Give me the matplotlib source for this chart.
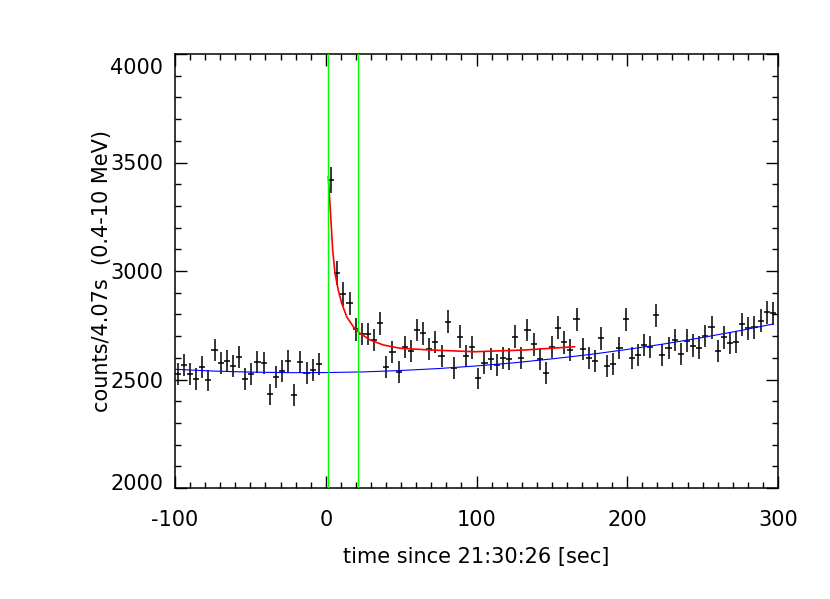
import numpy as np
import matplotlib
matplotlib.use("Agg")
import matplotlib.pyplot as plt
import matplotlib.transforms as mtransforms
from matplotlib.ticker import MultipleLocator

plt.rcParams["font.family"] = ["DejaVu Sans"]
plt.rcParams["axes.unicode_minus"] = False

# light curve, 4.07 s bins (one bin missing just before trigger)
bin_width = 4.07
t_first = -98.2
counts = [
    2525, 2568, 2527, 2501, 2559, 2496, 2636, 2574, 2585, 2564,
    2605, 2503, 2525, 2582, 2574, 2431, 2510, 2541, 2587, 2428,
    2582, 2531, 2544, 2572, np.nan, 3419, 2992, 2894, 2851, 2731,
    2710, 2710, 2682, 2759, 2559, 2628, 2536, 2651, 2633, 2728,
    2713, 2639, 2674, 2608, 2766, 2551, 2697, 2608, 2648, 2505,
    2578, 2594, 2567, 2598, 2593, 2697, 2601, 2728, 2662, 2593,
    2531, 2651, 2739, 2671, 2636, 2777, 2639, 2598, 2587, 2690,
    2562, 2571, 2644, 2777, 2598, 2613, 2659, 2651, 2797, 2613,
    2644, 2682, 2618, 2679, 2656, 2647, 2700, 2740, 2633, 2694,
    2667, 2674, 2754, 2736, 2740, 2771, 2810, 2805,
]

# background fit (blue)
bg_t = [-100, -75, -50, -25, 0, 25, 50, 75, 100, 125, 150, 175, 200, 225, 250, 275, 297]
bg_y = [2547, 2539, 2534, 2531.5, 2532, 2535, 2541.5, 2550.5, 2562.5, 2577, 2595, 2615,
        2638.5, 2664.5, 2693.5, 2725.5, 2756]

# burst fit (red)
fit_t = [1.7, 3.3, 4.6, 6.1, 8.3, 10.6, 13.9, 18.3, 22.7, 29.4, 38.2, 49.3, 69.2,
         99, 132, 165]
fit_y = [3434, 3250, 3097, 2991, 2912, 2851, 2789, 2743, 2713, 2682, 2659, 2644, 2636,
         2628, 2636, 2651]

# interval markers
t_marks = [1.3, 21.6]

counts = np.array(counts, dtype=float)
t = t_first + bin_width * np.arange(len(counts))

fig = plt.figure(figsize=(8.3, 5.99), dpi=100)
ax = fig.add_axes([175 / 830, 1 - 488 / 599, 603 / 830, 434 / 599])

ax.errorbar(t, counts, yerr=np.sqrt(counts), xerr=bin_width / 2,
            fmt="none", ecolor="black", elinewidth=1.1, capsize=0, zorder=2)
ax.plot(bg_t, bg_y, color="#0000ff", lw=0.8, zorder=3)
ax.plot(fit_t, fit_y, color="#ff0000", lw=1.2, zorder=3)
for tm in t_marks:
    ax.axvline(tm, color="#00ff00", lw=1.0, zorder=4)

ax.set_xlim(-100, 300)
ax.set_ylim(2000, 4000)
ax.xaxis.set_major_locator(MultipleLocator(100))
ax.xaxis.set_minor_locator(MultipleLocator(10))
ax.yaxis.set_major_locator(MultipleLocator(500))
ax.yaxis.set_minor_locator(MultipleLocator(100))

ax.tick_params(which="both", direction="in", top=True, right=True, width=1.0)
ax.tick_params(which="major", length=8.6, labelsize=15)
ax.tick_params(axis="x", which="major", pad=16)
ax.tick_params(axis="y", which="major", pad=8.5)
ax.tick_params(which="minor", length=4.3)
for sp in ax.spines.values():
    sp.set_linewidth(1.1)

ax.set_xlabel("time since 21:30:26 [sec]", fontsize=15)
ax.set_ylabel("counts/4.07s  (0.4-10 MeV)", fontsize=15)
ax.xaxis.set_label_coords(0.5, -0.135)
ax.yaxis.set_label_coords(-0.105, 0.5)

# IDL-style: end labels on the y axis pulled inside the frame
fig.canvas.draw()
shift_top = mtransforms.ScaledTranslation(0, -0.12, fig.dpi_scale_trans)
shift_bot = mtransforms.ScaledTranslation(0, 0.06, fig.dpi_scale_trans)
for tick in ax.yaxis.get_major_ticks():
    loc = tick.get_loc()
    if loc is None:
        continue
    if abs(loc - 4000) < 1:
        tick.label1.set_transform(tick.label1.get_transform() + shift_top)
    elif abs(loc - 2000) < 1:
        tick.label1.set_transform(tick.label1.get_transform() + shift_bot)

fig.savefig("out.png", dpi=100)
